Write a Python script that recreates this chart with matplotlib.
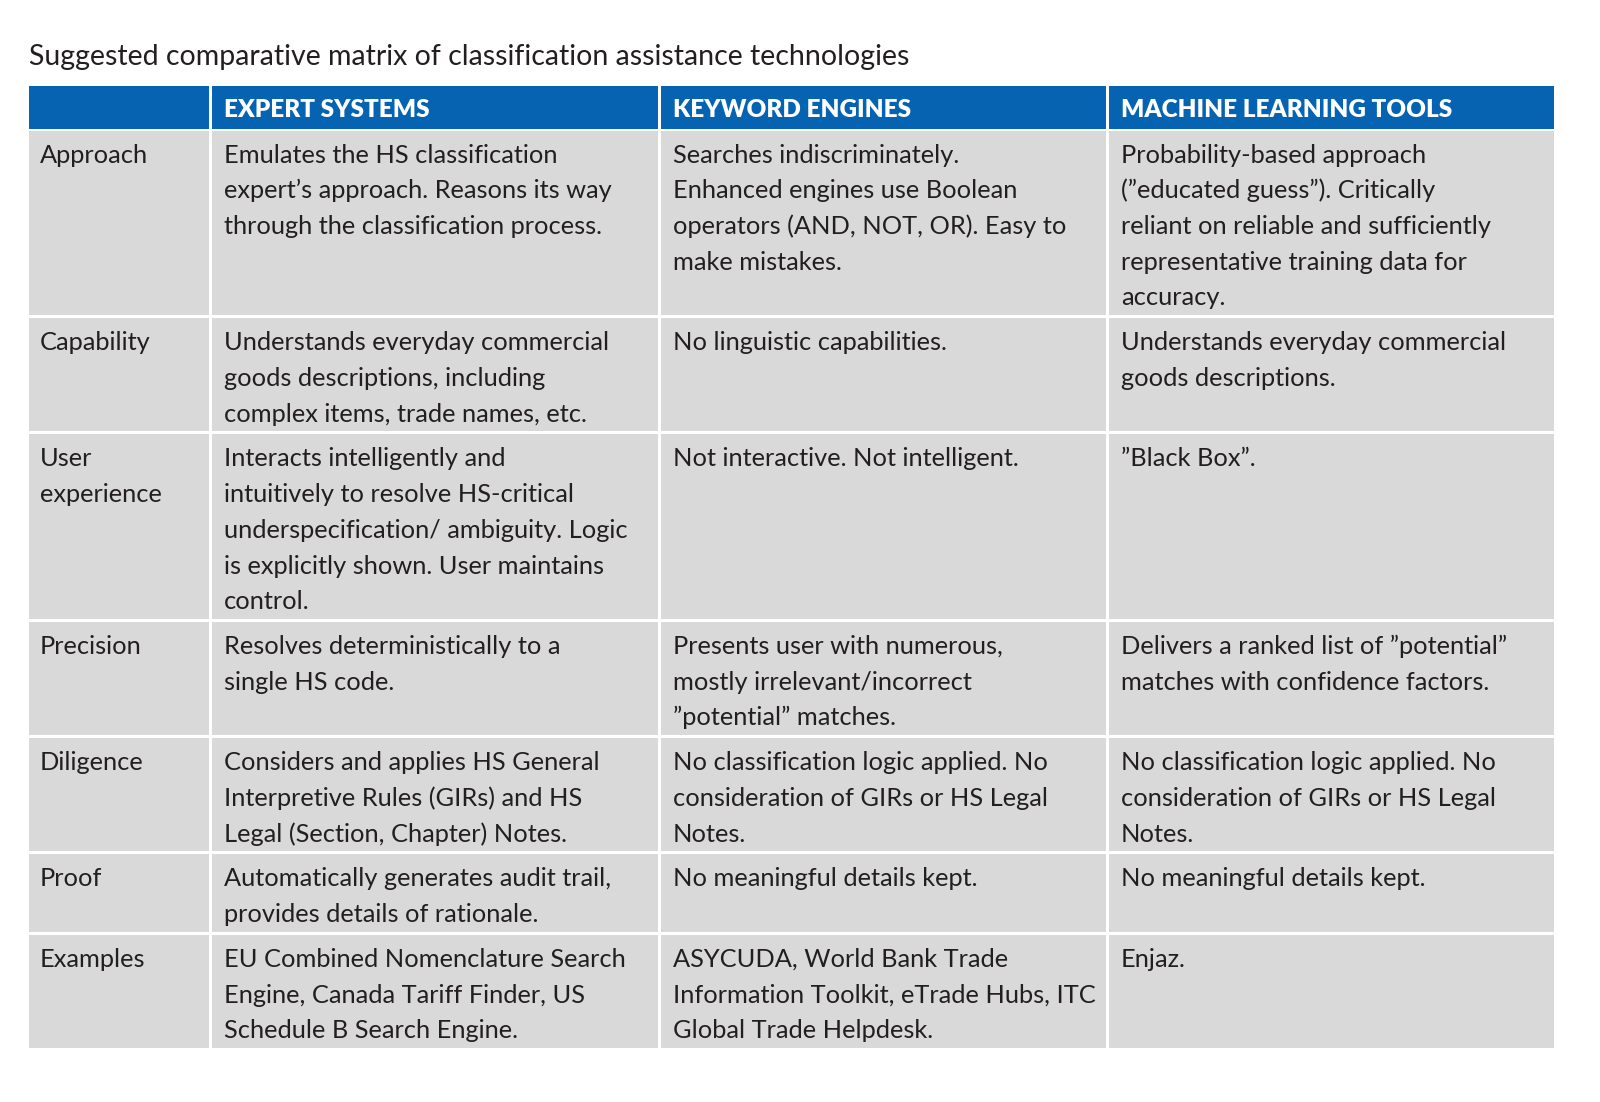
import matplotlib
matplotlib.use("Agg")
import matplotlib.pyplot as plt
from matplotlib.patches import Rectangle

# ---------------- data ---------------- #
title = "Suggested comparative matrix of classification assistance technologies"
headers = ["EXPERT SYSTEMS", "KEYWORD ENGINES", "MACHINE LEARNING TOOLS"]
row_labels = ["Approach", "Capability", "User\nexperience", "Precision",
              "Diligence", "Proof", "Examples"]
expert_systems = [
    "Emulates the HS classification\nexpert\u2019s approach. Reasons its way\nthrough the classification process.",
    "Understands everyday commercial\ngoods descriptions, including\ncomplex items, trade names, etc.",
    "Interacts intelligently and\nintuitively to resolve HS-critical\nunderspecification/ ambiguity. Logic\nis explicitly shown. User maintains\ncontrol.",
    "Resolves deterministically to a\nsingle HS code.",
    "Considers and applies HS General\nInterpretive Rules (GIRs) and HS\nLegal (Section, Chapter) Notes.",
    "Automatically generates audit trail,\nprovides details of rationale.",
    "EU Combined Nomenclature Search\nEngine, Canada Tariff Finder, US\nSchedule B Search Engine.",
]
keyword_engines = [
    "Searches indiscriminately.\nEnhanced engines use Boolean\noperators (AND, NOT, OR). Easy to\nmake mistakes.",
    "No linguistic capabilities.",
    "Not interactive. Not intelligent.",
    "Presents user with numerous,\nmostly irrelevant/incorrect\n\u201dpotential\u201d matches.",
    "No classification logic applied. No\nconsideration of GIRs or HS Legal\nNotes.",
    "No meaningful details kept.",
    "ASYCUDA, World Bank Trade\nInformation Toolkit, eTrade Hubs, ITC\nGlobal Trade Helpdesk.",
]
ml_tools = [
    "Probability-based approach\n(\u201deducated guess\u201d). Critically\nreliant on reliable and sufficiently\nrepresentative training data for\naccuracy.",
    "Understands everyday commercial\ngoods descriptions.",
    "\u201dBlack Box\u201d.",
    "Delivers a ranked list of \u201dpotential\u201d\nmatches with confidence factors.",
    "No classification logic applied. No\nconsideration of GIRs or HS Legal\nNotes.",
    "No meaningful details kept.",
    "Enjaz.",
]

# ---------------- layout ---------------- #
BLUE = "#0563B2"
GREY = "#D9D9D9"
TXT = "#231F20"
FONT = ["Lato", "DejaVu Sans"]

col_left = [28.6, 212.2, 661.2, 1109.2]
col_right = [209.2, 658.2, 1106.2, 1554.0]
head_top, head_bot = 85.7, 128.6
gap = 3.0
line_h = 35.7
pad = 6.1

fig = plt.figure(figsize=(16, 11.02), dpi=100)
ax = fig.add_axes([0, 0, 1, 1])
ax.set_xlim(0, 1600)
ax.set_ylim(1102, 0)
ax.axis("off")

# title
ax.text(29, 65, title, fontsize=20.5, color=TXT, family=FONT, va="baseline")

# header
for j in range(4):
    ax.add_patch(Rectangle((col_left[j], head_top), col_right[j] - col_left[j],
                           head_bot - head_top, color=BLUE, lw=0))
for j, h in enumerate(headers):
    ax.text(col_left[j + 1] + 11.5, 117.3, h, fontsize=17.5, fontweight="heavy",
            color="white", family=FONT, va="baseline")

# body
y = head_bot + gap - 1
columns = [row_labels, expert_systems, keyword_engines, ml_tools]
for i in range(len(row_labels)):
    nlines = max(len(c[i].split("\n")) for c in columns)
    h = nlines * line_h + pad
    for j, col in enumerate(columns):
        ax.add_patch(Rectangle((col_left[j], y), col_right[j] - col_left[j], h,
                               color=GREY, lw=0))
        for k, line in enumerate(col[i].split("\n")):
            ax.text(col_left[j] + 11.5, y + 32 + k * line_h, line, fontsize=18.3,
                    color=TXT, family=FONT, va="baseline")
    y += h + gap

fig.savefig("out.png", dpi=100, facecolor="white")
